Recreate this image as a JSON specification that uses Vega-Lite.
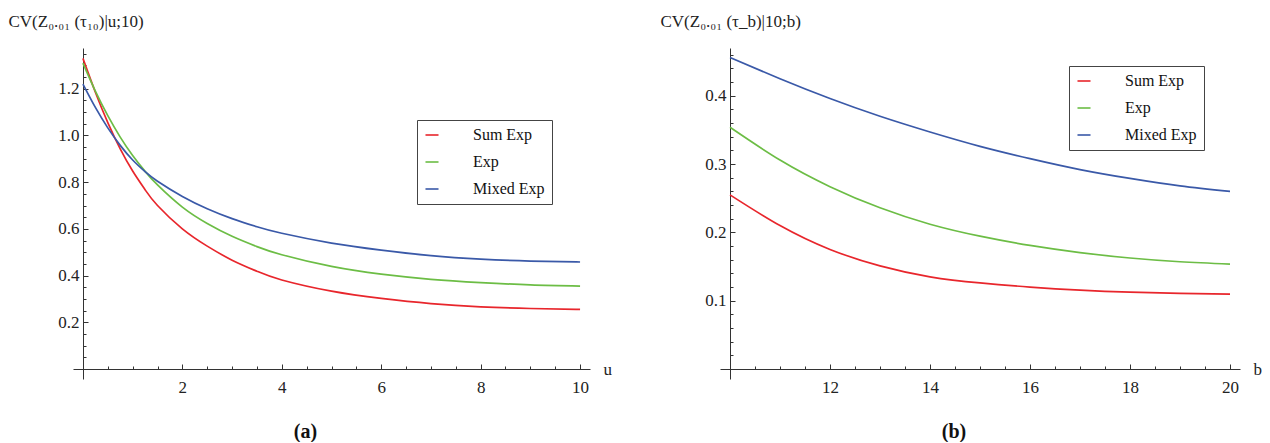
{
  "$schema": "https://vega.github.io/schema/vega-lite/v6.json",
  "background": "white",
  "padding": {"left": 8, "top": 12, "right": 5, "bottom": 0},
  "config": {
    "view": {"stroke": null},
    "font": "Liberation Serif, Times New Roman, DejaVu Serif, serif",
    "axis": {
      "grid": false,
      "domainColor": "#333333",
      "tickColor": "#333333",
      "labelColor": "#222222",
      "titleColor": "#222222",
      "labelFont": "Liberation Serif, Times New Roman, DejaVu Serif, serif",
      "titleFont": "Liberation Serif, Times New Roman, DejaVu Serif, serif",
      "labelFontSize": 17,
      "titleFontSize": 17,
      "titleFontWeight": "normal",
      "labelOverlap": false,
      "labelFlush": false
    },
    "legend": {
      "labelFont": "Liberation Serif, Times New Roman, DejaVu Serif, serif",
      "labelFontSize": 16,
      "labelColor": "#111111",
      "symbolType": "stroke",
      "symbolSize": 170,
      "symbolStrokeWidth": 1.6,
      "labelOffset": 33,
      "rowPadding": 11,
      "padding": 7,
      "strokeColor": "#444444",
      "fillColor": "white"
    },
    "title": {"font": "Liberation Serif, Times New Roman, DejaVu Serif, serif", "fontSize": 20, "fontWeight": "bold", "color": "#111111"}
  },
  "datasets": {
    "a": [
      {"u": 0, "cv": 1.33, "s": "Sum Exp"}, {"u": 0.25, "cv": 1.185, "s": "Sum Exp"}, {"u": 0.5, "cv": 1.055, "s": "Sum Exp"}, {"u": 0.75, "cv": 0.9425, "s": "Sum Exp"}, {"u": 1, "cv": 0.8475, "s": "Sum Exp"}, {"u": 1.25, "cv": 0.7675, "s": "Sum Exp"}, {"u": 1.5, "cv": 0.7, "s": "Sum Exp"}, {"u": 2, "cv": 0.6, "s": "Sum Exp"}, {"u": 2.5, "cv": 0.526, "s": "Sum Exp"}, {"u": 3, "cv": 0.466, "s": "Sum Exp"}, {"u": 3.5, "cv": 0.4185, "s": "Sum Exp"}, {"u": 4, "cv": 0.381, "s": "Sum Exp"}, {"u": 5, "cv": 0.333, "s": "Sum Exp"}, {"u": 6, "cv": 0.302, "s": "Sum Exp"}, {"u": 7, "cv": 0.28, "s": "Sum Exp"}, {"u": 8, "cv": 0.266, "s": "Sum Exp"}, {"u": 9, "cv": 0.259, "s": "Sum Exp"}, {"u": 10, "cv": 0.255, "s": "Sum Exp"},
      {"u": 0, "cv": 1.31, "s": "Exp"}, {"u": 0.25, "cv": 1.19, "s": "Exp"}, {"u": 0.5, "cv": 1.085, "s": "Exp"}, {"u": 0.75, "cv": 0.993, "s": "Exp"}, {"u": 1, "cv": 0.914, "s": "Exp"}, {"u": 1.25, "cv": 0.846, "s": "Exp"}, {"u": 1.5, "cv": 0.788, "s": "Exp"}, {"u": 2, "cv": 0.693, "s": "Exp"}, {"u": 2.5, "cv": 0.623, "s": "Exp"}, {"u": 3, "cv": 0.568, "s": "Exp"}, {"u": 3.5, "cv": 0.524, "s": "Exp"}, {"u": 4, "cv": 0.489, "s": "Exp"}, {"u": 5, "cv": 0.439, "s": "Exp"}, {"u": 6, "cv": 0.406, "s": "Exp"}, {"u": 7, "cv": 0.384, "s": "Exp"}, {"u": 8, "cv": 0.37, "s": "Exp"}, {"u": 9, "cv": 0.36, "s": "Exp"}, {"u": 10, "cv": 0.355, "s": "Exp"},
      {"u": 0, "cv": 1.22, "s": "Mixed Exp"}, {"u": 0.25, "cv": 1.12, "s": "Mixed Exp"}, {"u": 0.5, "cv": 1.0325, "s": "Mixed Exp"}, {"u": 0.75, "cv": 0.9575, "s": "Mixed Exp"}, {"u": 1, "cv": 0.895, "s": "Mixed Exp"}, {"u": 1.25, "cv": 0.845, "s": "Mixed Exp"}, {"u": 1.5, "cv": 0.804, "s": "Mixed Exp"}, {"u": 2, "cv": 0.739, "s": "Mixed Exp"}, {"u": 2.5, "cv": 0.6865, "s": "Mixed Exp"}, {"u": 3, "cv": 0.644, "s": "Mixed Exp"}, {"u": 3.5, "cv": 0.609, "s": "Mixed Exp"}, {"u": 4, "cv": 0.581, "s": "Mixed Exp"}, {"u": 5, "cv": 0.539, "s": "Mixed Exp"}, {"u": 6, "cv": 0.509, "s": "Mixed Exp"}, {"u": 7, "cv": 0.485, "s": "Mixed Exp"}, {"u": 8, "cv": 0.47, "s": "Mixed Exp"}, {"u": 9, "cv": 0.462, "s": "Mixed Exp"}, {"u": 10, "cv": 0.458, "s": "Mixed Exp"}
    ],
    "b": [
      {"b": 10, "cv": 0.255, "s": "Sum Exp"}, {"b": 11, "cv": 0.21, "s": "Sum Exp"}, {"b": 12, "cv": 0.175, "s": "Sum Exp"}, {"b": 13, "cv": 0.151, "s": "Sum Exp"}, {"b": 14, "cv": 0.135, "s": "Sum Exp"}, {"b": 15, "cv": 0.126, "s": "Sum Exp"}, {"b": 16, "cv": 0.12, "s": "Sum Exp"}, {"b": 17, "cv": 0.1155, "s": "Sum Exp"}, {"b": 18, "cv": 0.1125, "s": "Sum Exp"}, {"b": 19, "cv": 0.1108, "s": "Sum Exp"}, {"b": 20, "cv": 0.1097, "s": "Sum Exp"},
      {"b": 10, "cv": 0.354, "s": "Exp"}, {"b": 11, "cv": 0.306, "s": "Exp"}, {"b": 12, "cv": 0.267, "s": "Exp"}, {"b": 13, "cv": 0.236, "s": "Exp"}, {"b": 14, "cv": 0.212, "s": "Exp"}, {"b": 15, "cv": 0.1945, "s": "Exp"}, {"b": 16, "cv": 0.181, "s": "Exp"}, {"b": 17, "cv": 0.1705, "s": "Exp"}, {"b": 18, "cv": 0.1625, "s": "Exp"}, {"b": 19, "cv": 0.157, "s": "Exp"}, {"b": 20, "cv": 0.1536, "s": "Exp"},
      {"b": 10, "cv": 0.456, "s": "Mixed Exp"}, {"b": 11, "cv": 0.425, "s": "Mixed Exp"}, {"b": 12, "cv": 0.396, "s": "Mixed Exp"}, {"b": 13, "cv": 0.37, "s": "Mixed Exp"}, {"b": 14, "cv": 0.347, "s": "Mixed Exp"}, {"b": 15, "cv": 0.326, "s": "Mixed Exp"}, {"b": 16, "cv": 0.308, "s": "Mixed Exp"}, {"b": 17, "cv": 0.292, "s": "Mixed Exp"}, {"b": 18, "cv": 0.279, "s": "Mixed Exp"}, {"b": 19, "cv": 0.268, "s": "Mixed Exp"}, {"b": 20, "cv": 0.26, "s": "Mixed Exp"}
    ]
  },
  "bounds": "flush",
  "spacing": 130,
  "resolve": {"scale": {"color": "independent"}, "legend": {"color": "independent"}},
  "hconcat": [
    {
      "width": 517,
      "height": 331,
      "data": {"name": "a"},
      "title": {"text": "(a)", "orient": "bottom", "anchor": "middle", "dx": -26, "offset": 25},
      "mark": {"type": "line", "strokeWidth": 1.7, "interpolate": "natural"},
      "encoding": {
        "x": {
          "field": "u", "type": "quantitative",
          "scale": {"domain": [-0.2, 10.2], "nice": false, "zero": false},
          "axis": {
            "title": "u", "offset": -10,
            "values": [0.5, 1, 1.5, 2, 2.5, 3, 3.5, 4, 4.5, 5, 5.5, 6, 6.5, 7, 7.5, 8, 8.5, 9, 9.5, 10],
            "tickSize": {"condition": {"test": "abs(datum.value/2 - round(datum.value/2)) < 0.001", "value": -5}, "value": -3},
            "labelExpr": "abs(datum.value/2 - round(datum.value/2)) < 0.001 ? format(datum.value, 'd') : ''",
            "labelPadding": 15,
            "titleX": 530, "titleY": 0, "titleAlign": "left", "titleBaseline": "middle"
          }
        },
        "y": {
          "field": "cv", "type": "quantitative",
          "scale": {"domain": [-0.043, 1.3745], "nice": false, "zero": false},
          "axis": {
            "title": "CV(Z₀.₀₁ (τ₁₀)|u;10)", "offset": -10,
            "values": [0.05, 0.1, 0.15, 0.2, 0.25, 0.3, 0.35, 0.4, 0.45, 0.5, 0.55, 0.6, 0.65, 0.7, 0.75, 0.8, 0.85, 0.9, 0.95, 1.0, 1.05, 1.1, 1.15, 1.2, 1.25, 1.3, 1.35],
            "tickSize": {"condition": {"test": "abs(datum.value*5 - round(datum.value*5)) < 0.001", "value": -5}, "value": -3},
            "labelExpr": "abs(datum.value*5 - round(datum.value*5)) < 0.001 ? format(datum.value, '.1f') : ''",
            "labelPadding": 9,
            "titleAngle": 0, "titleX": -75, "titleY": -22, "titleAlign": "left", "titleBaseline": "alphabetic"
          }
        },
        "color": {
          "field": "s", "type": "nominal",
          "scale": {"domain": ["Sum Exp", "Exp", "Mixed Exp"], "range": ["#e8262c", "#6cbd45", "#3a59a8"]},
          "legend": {"title": null, "orient": "none", "legendX": 344, "legendY": 72}
        }
      }
    },
    {
      "width": 520,
      "height": 331,
      "data": {"name": "b"},
      "title": {"text": "(b)", "orient": "bottom", "anchor": "middle", "dx": -26, "offset": 25},
      "mark": {"type": "line", "strokeWidth": 1.7, "interpolate": "natural"},
      "encoding": {
        "x": {
          "field": "b", "type": "quantitative",
          "scale": {"domain": [9.8, 20.2], "nice": false, "zero": false},
          "axis": {
            "title": "b", "offset": -10,
            "values": [10.5, 11, 11.5, 12, 12.5, 13, 13.5, 14, 14.5, 15, 15.5, 16, 16.5, 17, 17.5, 18, 18.5, 19, 19.5, 20],
            "tickSize": {"condition": {"test": "abs(datum.value/2 - round(datum.value/2)) < 0.001", "value": -5}, "value": -3},
            "labelExpr": "abs(datum.value/2 - round(datum.value/2)) < 0.001 ? format(datum.value, 'd') : ''",
            "labelPadding": 15,
            "titleX": 533, "titleY": 0, "titleAlign": "left", "titleBaseline": "middle"
          }
        },
        "y": {
          "field": "cv", "type": "quantitative",
          "scale": {"domain": [-0.01464, 0.47], "nice": false, "zero": false},
          "axis": {
            "title": "CV(Z₀.₀₁ (τ_b)|10;b)", "offset": -10,
            "values": [0.02, 0.04, 0.06, 0.08, 0.1, 0.12, 0.14, 0.16, 0.18, 0.2, 0.22, 0.24, 0.26, 0.28, 0.3, 0.32, 0.34, 0.36, 0.38, 0.4, 0.42, 0.44, 0.46],
            "tickSize": {"condition": {"test": "abs(datum.value*10 - round(datum.value*10)) < 0.001", "value": -5}, "value": -3},
            "labelExpr": "abs(datum.value*10 - round(datum.value*10)) < 0.001 ? format(datum.value, '.1f') : ''",
            "labelPadding": 9,
            "titleAngle": 0, "titleX": -70, "titleY": -22, "titleAlign": "left", "titleBaseline": "alphabetic"
          }
        },
        "color": {
          "field": "s", "type": "nominal",
          "scale": {"domain": ["Sum Exp", "Exp", "Mixed Exp"], "range": ["#e8262c", "#6cbd45", "#3a59a8"]},
          "legend": {"title": null, "orient": "none", "legendX": 349, "legendY": 18}
        }
      }
    }
  ]
}
